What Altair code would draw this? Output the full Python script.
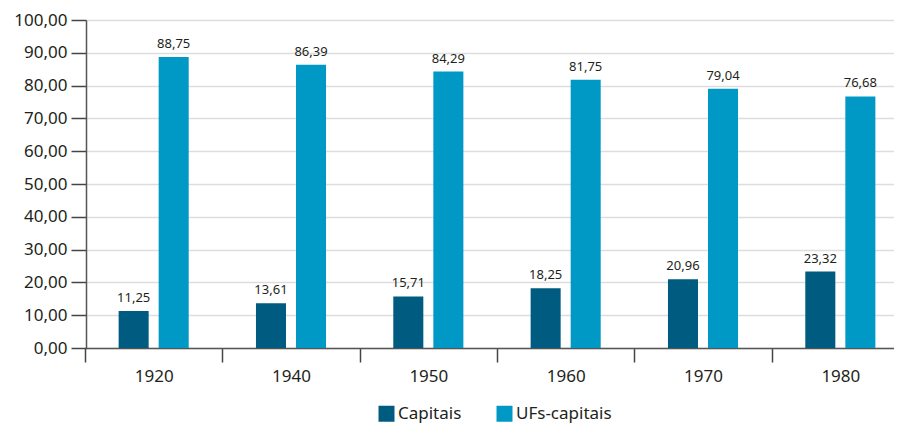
import altair as alt
import pandas as pd

anos = ["1920", "1940", "1950", "1960", "1970", "1980"]
capitais = [11.25, 13.61, 15.71, 18.25, 20.96, 23.32]
ufs_capitais = [88.75, 86.39, 84.29, 81.75, 79.04, 76.68]
series = ["Capitais", "UFs-capitais"]
cores = ["#005b80", "#0099c6"]
y_ticks = [0, 10, 20, 30, 40, 50, 60, 70, 80, 90, 100]

rows = []
for a, c, u in zip(anos, capitais, ufs_capitais):
    rows.append({"ano": a, "serie": series[0], "valor": c})
    rows.append({"ano": a, "serie": series[1], "valor": u})
df = pd.DataFrame(rows)

FONT = "Noto Sans"
TXT = "#231f20"

base = alt.Chart(df).encode(
    x=alt.X("ano:N", sort=anos, title=None,
            scale=alt.Scale(paddingInner=0, paddingOuter=0, range=[-1, 823]),
            axis=alt.Axis(labelAngle=0, tickBand="extent", tickSize=14,
                          tickColor="#444", tickWidth=1.5, domainColor="#555",
                          domainWidth=1.5, labelFontSize=17, labelColor=TXT,
                          labelFont=FONT, labelPadding=6, grid=False)),
    xOffset=alt.XOffset("serie:N", sort=series,
                        scale=alt.Scale(paddingInner=0.25, paddingOuter=0.84)),
    y=alt.Y("valor:Q", title=None,
            scale=alt.Scale(domain=[0, 100], nice=False),
            axis=alt.Axis(values=y_ticks, labelOverlap=False,
                          labelExpr="replace(format(datum.value, '.2f'), '.', ',')",
                          tickSize=15, tickColor="#444", tickWidth=1.5,
                          domainColor="#555", domainWidth=1.5,
                          labelFontSize=17, labelColor=TXT, labelFont=FONT,
                          labelPadding=4, gridColor="#dddddd", gridWidth=1.5)),
)

bars = base.mark_bar().encode(
    color=alt.Color("serie:N", sort=series,
                    scale=alt.Scale(domain=series, range=cores),
                    legend=alt.Legend(title=None, orient="none", direction="horizontal",
                                      legendX=292, legendY=385,
                                      symbolType="square", symbolSize=256,
                                      symbolStrokeWidth=0, labelFontSize=17,
                                      labelFont=FONT, labelColor=TXT,
                                      columnPadding=34, labelOffset=3)),
)

labels = base.mark_text(baseline="bottom", dy=-6, fontSize=13, font=FONT, color=TXT).encode(
    text=alt.Text("label:N"),
).transform_calculate(
    label="replace(format(datum.valor, '.2f'), '.', ',')"
)

chart = (bars + labels).properties(
    width=808, height=328,
    autosize=alt.AutoSizeParams(type="none"),
    padding={"left": 78, "top": 12, "right": 0, "bottom": 78},
).configure_view(stroke=None).configure(background="white")

chart.save("out.html", embed_options={"renderer": "svg", "actions": False})
